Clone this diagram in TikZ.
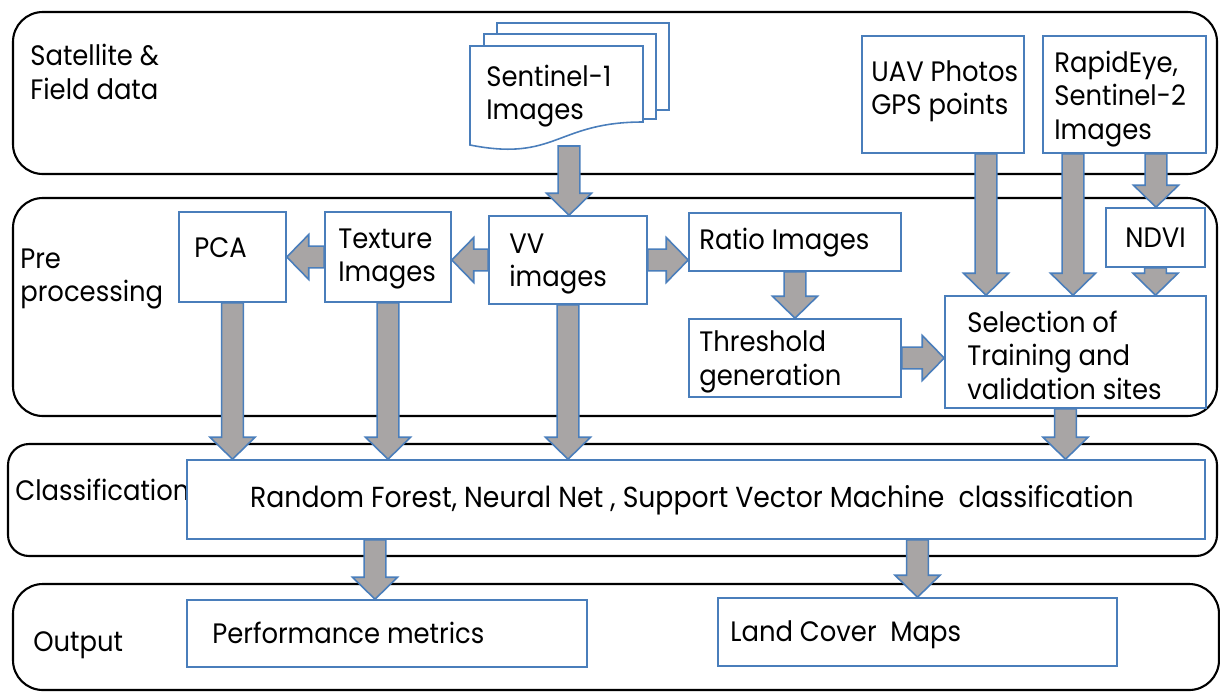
\documentclass[tikz,border=0pt]{standalone}
\usepackage{fontspec}
\setmainfont{Poppins}[FakeStretch=0.92]
\usetikzlibrary{fit,calc}

\definecolor{boxblue}{HTML}{4A7EBB}
\definecolor{arrowgray}{HTML}{A8A5A5}

% block arrow geometry
\def\bkShaft{6.2pt}
\def\bkHead{12.8pt}
\def\bkLen{12.5pt}

% vertical block arrow: x taken from the start point, tip at the end point's y
\newcommand\blkdown[2]{%
  \path[blockarrow] let \p1=(#1), \p2=(#2) in
    (\x1-\bkShaft,\y1) -- (\x1-\bkShaft,\y2+\bkLen) -- (\x1-\bkHead,\y2+\bkLen)
    -- (\x1,\y2) -- (\x1+\bkHead,\y2+\bkLen) -- (\x1+\bkShaft,\y2+\bkLen)
    -- (\x1+\bkShaft,\y1) -- cycle;}
% horizontal block arrows: y taken from the start point
\newcommand\blkright[2]{%
  \path[blockarrow] let \p1=(#1), \p2=(#2) in
    (\x1,\y1+\bkShaft) -- (\x2-\bkLen,\y1+\bkShaft) -- (\x2-\bkLen,\y1+\bkHead)
    -- (\x2,\y1) -- (\x2-\bkLen,\y1-\bkHead) -- (\x2-\bkLen,\y1-\bkShaft)
    -- (\x1,\y1-\bkShaft) -- cycle;}
\newcommand\blkleft[2]{%
  \path[blockarrow] let \p1=(#1), \p2=(#2) in
    (\x1,\y1+\bkShaft) -- (\x2+\bkLen,\y1+\bkShaft) -- (\x2+\bkLen,\y1+\bkHead)
    -- (\x2,\y1) -- (\x2+\bkLen,\y1-\bkHead) -- (\x2+\bkLen,\y1-\bkShaft)
    -- (\x1,\y1-\bkShaft) -- cycle;}

\begin{document}
\begin{tikzpicture}[x=0.02cm,y=-0.02cm,
  lane/.style={draw=black, line width=1.2pt, rounded corners=17pt, inner sep=0pt},
  lanesmall/.style={lane, rounded corners=12pt},
  bbox/.style={draw=boxblue, fill=white, line width=0.9pt, inner sep=0pt},
  txt/.style={inner sep=0pt, anchor=west, align=left, text=black,
    font=\fontsize{16}{19}\selectfont},
  blockarrow/.style={fill=arrowgray, draw=boxblue, line width=0.9pt, line join=miter}]

\useasboundingbox (0,0) rectangle (1220,694);

% swim lanes
\node[lane, fit={(13,12) (1217,174)}] (lane1) {};
\node[lane, fit={(13,198) (1217,416)}] (lane2) {};
\node[lanesmall, fit={(8,444) (1217,556)}] (lane3) {};
\node[lane, fit={(13,584) (1219,690)}] (lane4) {};

\node[txt] (lane1-t) at (30,72) {Satellite \&\\Field data};
\node[txt] (lane2-t) at (20,279) {Pre\\processing};
\node[txt] (lane3-t) at (15,490) {Classification};
\node[txt] (lane4-t) at (33,645) {Output};

% Sentinel-1 stack of documents
\draw[bbox] (497,23) rectangle (669,110);
\draw[bbox] (484,34) rectangle (656,119);
\draw[bbox] (470,46) -- (643,46) -- (643,122)
  .. controls (556,122) and (556,162) .. (470,145) -- cycle;
\node[txt] (s1) at (486,96) {Sentinel-1\\Images};
\coordinate (s1-out) at (569,146);

% source boxes
\node[bbox, fit={(862,36) (1024,153)}] (uav) {};
\node[txt] at (871,91) {UAV Photos\\GPS points};
\node[bbox, fit={(1043,36) (1206,153)}] (rapid) {};
\node[txt] at (1054,99) {RapidEye,\\Sentinel-2\\Images};

% pre-processing boxes
\node[bbox, fit={(179,212) (286,302)}] (pca) {};
\node[txt] at (194,248) {PCA};
\node[bbox, fit={(325,212) (451,302)}] (tex) {};
\node[txt] at (338,259) {Texture\\Images};
\node[bbox, fit={(489,216) (647,304)}] (vv) {};
\node[txt] at (509,264) {VV\\images};
\node[bbox, fit={(689,213) (901,271)}] (ratio) {};
\node[txt] at (699,243) {Ratio Images};
\node[bbox, fit={(689,319) (901,397)}] (thr) {};
\node[txt] at (699,362) {Threshold\\generation};
\node[bbox, fit={(1106,208) (1205,267)}] (ndvi) {};
\node[txt, anchor=center] at (ndvi.center) {NDVI};
\node[bbox, fit={(945,296) (1206,408)}] (sel) {};
\node[txt] at (967,355) {Selection of\\Training and\\validation sites};

% classification
\node[bbox, fit={(187,460) (1205,539)}] (cls) {};
\node[txt, anchor=center, font=\fontsize{16.5}{19}\selectfont] at (692,500)
  {Random Forest, Neural Net , Support Vector Machine~ classification};

% outputs
\node[bbox, fit={(187,600) (587,667)}] (perf) {};
\node[txt] at (212,633) {Performance metrics};
\node[bbox, fit={(718,598) (1117,666)}] (lcm) {};
\node[txt] at (730,635) {Land Cover~ Maps};

% block arrows
\blkdown{s1-out}{vv.north}
\blkleft{vv.west}{tex.east}
\blkleft{tex.west}{pca.east}
\blkright{vv.east}{ratio.west}
\blkdown{ratio.south}{thr.north}
\blkright{thr.east}{sel.west}
\blkdown{[xshift=0.86cm]uav.south}{sel.north}
\blkdown{[xshift=-1.03cm]rapid.south}{sel.north}
\blkdown{[xshift=0.63cm]rapid.south}{ndvi.north}
\blkdown{ndvi.south}{sel.north}
\blkdown{pca.south}{cls.north}
\blkdown{tex.south}{cls.north}
\blkdown{vv.south}{cls.north}
\blkdown{[xshift=-0.2cm]sel.south}{cls.north}
\blkdown{$(perf.north |- cls.south)+(-12,0)$}{perf.north}
\blkdown{lcm.north |- cls.south}{lcm.north}

\end{tikzpicture}
\end{document}
